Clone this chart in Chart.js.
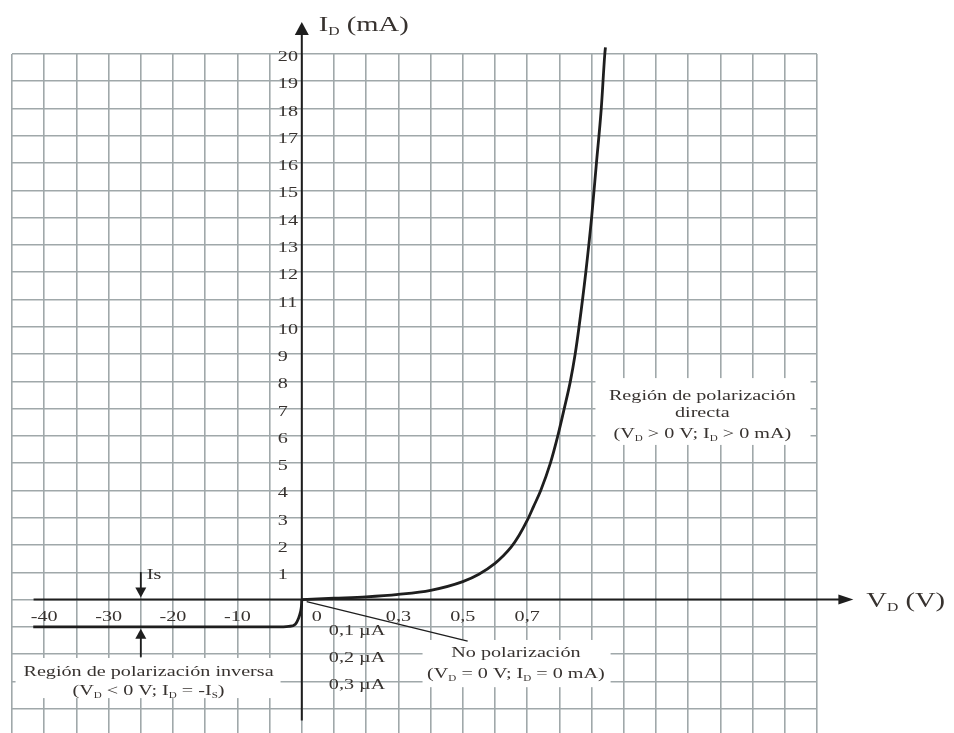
<!DOCTYPE html>
<html lang="es">
<head>
<meta charset="utf-8">
<title>Curva característica del diodo</title>
<script src="https://cdn.jsdelivr.net/npm/chart.js@4.4.1/dist/chart.umd.min.js"></script>
<style>
  html, body { margin: 0; padding: 0; background: #fff; }
  #wrap { width: 954px; height: 733px; position: relative; }
</style>
</head>
<body>
<div id="wrap"><canvas id="diodeChart"></canvas></div>
<script>
// polarización directa: tensión (V) y corriente (mA)
const fwdVolts     = [0, 0.1, 0.2, 0.3, 0.4, 0.5, 0.55, 0.6, 0.625, 0.65, 0.675, 0.7, 0.72, 0.742, 0.772, 0.795, 0.815, 0.834, 0.849, 0.861, 0.882, 0.9, 0.915, 0.93, 0.941, 0.943];
const fwdCurrentMA = [0, 0.05, 0.1, 0.19, 0.34, 0.66, 0.93, 1.33, 1.6, 1.92, 2.36, 2.9, 3.42, 4, 5, 6, 7, 8, 9, 10, 12, 14, 16, 18, 20, 20.24];

// polarización inversa: tensión (V) y corriente (µA)
const revVolts     = [-41.7, -4, -2, -1, -0.5, -0.2, -0.05, 0];
const revCurrentUA = [-0.1, -0.1, -0.098, -0.09, -0.068, -0.045, -0.022, 0];

// línea que señala "No polarización" (V, µA)
const leaderVolts     = [0.015, 0.515];
const leaderCurrentUA = [-0.007, -0.152];

// etiquetas de los ejes
const xTickVolts  = [-40, -30, -20, -10, 0, 0.3, 0.5, 0.7];
const xTickLabels = ['-40', '-30', '-20', '-10', '0', '0,3', '0,5', '0,7'];
const yTickMA     = [1, 2, 3, 4, 5, 6, 7, 8, 9, 10, 11, 12, 13, 14, 15, 16, 17, 18, 19, 20];
const yTickNegUA  = [-0.1, -0.2, -0.3];
const yTickNegLabels = ['0,1 µA', '0,2 µA', '0,3 µA'];
const isVolts = -25;

// una celda de la cuadrícula: 5 V (inversa) o 0,1 V (directa); 1 mA arriba, 0,1 µA abajo
const gx = v => (v < 0 ? v / 5 : v / 0.1);
const gyUA = i => i / 0.1;

const INK = '#1e1e1e';
const TEXT = '#37322f';
const GRID = '#a0a8aa';
const SX = 1.3; // la figura original está estirada en horizontal
const FONT = '"Liberation Serif", "Times New Roman", serif';

// cuadros de texto (en unidades de cuadrícula)
const notes = [
  { box: [9.12, 8.12, 15.8, 5.67], cx: 12.44,
    lines: [['Región de polarización', 7.31], ['directa', 6.70], ['(V_{D} > 0 V; I_{D} > 0 mA)', 5.94]] },
  { box: [-8.89, -2.14, -0.66, -3.61], cx: -4.76,
    lines: [['Región de polarización inversa', -2.80], ['(V_{D} < 0 V; I_{D} = -I_{S})', -3.50]] },
  { box: [3.75, -1.48, 9.59, -3.21], cx: 6.65,
    lines: [['No polarización', -2.12], ['(V_{D} = 0 V; I_{D} = 0 mA)', -2.88]] }
];

const fontFor = (s, size) => (s.sub ? size * 0.55 : size) + 'px ' + FONT;

function parseRich(str) {
  const segs = [];
  str.split(/(_\{[^}]*\})/).forEach(p => {
    if (!p) return;
    if (p.startsWith('_{')) segs.push({ t: p.slice(2, -1), sub: true });
    else segs.push({ t: p, sub: false });
  });
  return segs;
}

function drawText(ctx, str, x, y, size, align) {
  const segs = parseRich(str);
  ctx.save();
  ctx.translate(x, y);
  ctx.scale(SX, 1);
  ctx.textBaseline = 'alphabetic';
  ctx.textAlign = 'left';
  ctx.fillStyle = TEXT;
  let w = 0;
  segs.forEach(s => { ctx.font = fontFor(s, size); w += ctx.measureText(s.t).width; });
  let cx = align === 'center' ? -w / 2 : (align === 'right' ? -w : 0);
  segs.forEach(s => {
    ctx.font = fontFor(s, size);
    ctx.fillText(s.t, cx, s.sub ? size * 0.2 : 0);
    cx += ctx.measureText(s.t).width;
  });
  ctx.restore();
}

function arrow(ctx, x1, y1, x2, y2, len, half) {
  const d = Math.hypot(x2 - x1, y2 - y1);
  const dx = (x2 - x1) / d, dy = (y2 - y1) / d;
  ctx.beginPath();
  ctx.moveTo(x1, y1);
  ctx.lineTo(x2 - dx * len * 0.7, y2 - dy * len * 0.7);
  ctx.stroke();
  ctx.beginPath();
  ctx.moveTo(x2, y2);
  ctx.lineTo(x2 - dx * len - dy * half, y2 - dy * len + dx * half);
  ctx.lineTo(x2 - dx * len + dy * half, y2 - dy * len - dx * half);
  ctx.closePath();
  ctx.fill();
}

const diodeDecor = {
  id: 'diodeDecor',
  beforeDatasetsDraw(chart) {
    const { ctx, scales: { x, y } } = chart;
    ctx.save();
    ctx.fillStyle = '#fff';
    notes.forEach(n => {
      const l = x.getPixelForValue(n.box[0]), r = x.getPixelForValue(n.box[2]);
      const t = y.getPixelForValue(n.box[1]), b = y.getPixelForValue(n.box[3]);
      ctx.fillRect(l, t, r - l, b - t);
    });
    ctx.restore();
  },
  afterDatasetsDraw(chart) {
    const { ctx, scales: { x, y } } = chart;
    const x0 = x.getPixelForValue(0), y0 = y.getPixelForValue(0);
    ctx.save();
    ctx.strokeStyle = INK;
    ctx.fillStyle = INK;
    ctx.lineWidth = 2;

    // ejes con flecha
    arrow(ctx, x.getPixelForValue(-8.33), y0, x.getPixelForValue(17.13), y0, 15, 5);
    arrow(ctx, x0, y.getPixelForValue(-4.43), x0, y.getPixelForValue(21.17), 13, 7);

    // flechas de Is
    const xIs = x.getPixelForValue(gx(isVolts));
    ctx.lineWidth = 1.8;
    arrow(ctx, xIs, y.getPixelForValue(1.01), xIs, y.getPixelForValue(0.08), 10, 5.5);
    arrow(ctx, xIs, y.getPixelForValue(-2.1), xIs, y.getPixelForValue(-1.07), 10, 5.5);
    ctx.restore();

    drawText(ctx, 'Is', xIs + 6, y.getPixelForValue(0.75), 15.5, 'left');

    // marcas de los ejes
    xTickVolts.forEach((v, i) => {
      const px = x.getPixelForValue(gx(v)) + (v === 0 ? 15 : 0);
      drawText(ctx, xTickLabels[i], px, y0 + 21, 15.5, 'center');
    });
    yTickMA.forEach(v => {
      drawText(ctx, String(v), x0 - 24, y.getPixelForValue(v) + 7, 15.5, 'left');
    });
    yTickNegUA.forEach((v, i) => {
      drawText(ctx, yTickNegLabels[i], x0 + 27, y.getPixelForValue(gyUA(v)) + 8, 15.5, 'left');
    });

    // títulos de los ejes
    drawText(ctx, 'I_{D} (mA)', x0 + 17, y.getPixelForValue(20.84), 22, 'left');
    drawText(ctx, 'V_{D} (V)', x.getPixelForValue(17.53), y.getPixelForValue(-0.27), 22, 'left');

    // textos explicativos
    notes.forEach(n => {
      n.lines.forEach(([txt, gy]) => {
        drawText(ctx, txt, x.getPixelForValue(n.cx), y.getPixelForValue(gy), 15.5, 'center');
      });
    });
  }
};

const lineStyle = { borderColor: INK, pointRadius: 0, showLine: true, fill: false, clip: false };

new Chart(document.getElementById('diodeChart'), {
  type: 'scatter',
  data: {
    datasets: [
      Object.assign({
        label: 'Polarización directa',
        data: fwdVolts.map((v, i) => ({ x: gx(v), y: fwdCurrentMA[i] })),
        borderWidth: 2.8,
        cubicInterpolationMode: 'monotone'
      }, lineStyle),
      Object.assign({
        label: 'Polarización inversa',
        data: revVolts.map((v, i) => ({ x: gx(v), y: gyUA(revCurrentUA[i]) })),
        borderWidth: 2.8,
        cubicInterpolationMode: 'monotone'
      }, lineStyle),
      Object.assign({
        label: 'No polarización',
        data: leaderVolts.map((v, i) => ({ x: gx(v), y: gyUA(leaderCurrentUA[i]) })),
        borderWidth: 1.3
      }, lineStyle)
    ]
  },
  options: {
    responsive: true,
    maintainAspectRatio: false,
    animation: false,
    layout: { padding: { left: 12, right: 137, top: 54, bottom: 0 } },
    plugins: { legend: { display: false }, tooltip: { enabled: false } },
    scales: {
      x: {
        type: 'linear', min: -9, max: 16,
        ticks: { display: false, stepSize: 1 },
        grid: { color: GRID, lineWidth: 1.6, drawTicks: false },
        border: { display: false }
      },
      y: {
        type: 'linear', min: -4.89, max: 20,
        ticks: { display: false, stepSize: 1 },
        grid: {
          color: c => (Number.isInteger(c.tick.value) ? GRID : 'rgba(0,0,0,0)'),
          lineWidth: 1.6, drawTicks: false
        },
        border: { display: false }
      }
    }
  },
  plugins: [diodeDecor]
});
</script>
</body>
</html>
